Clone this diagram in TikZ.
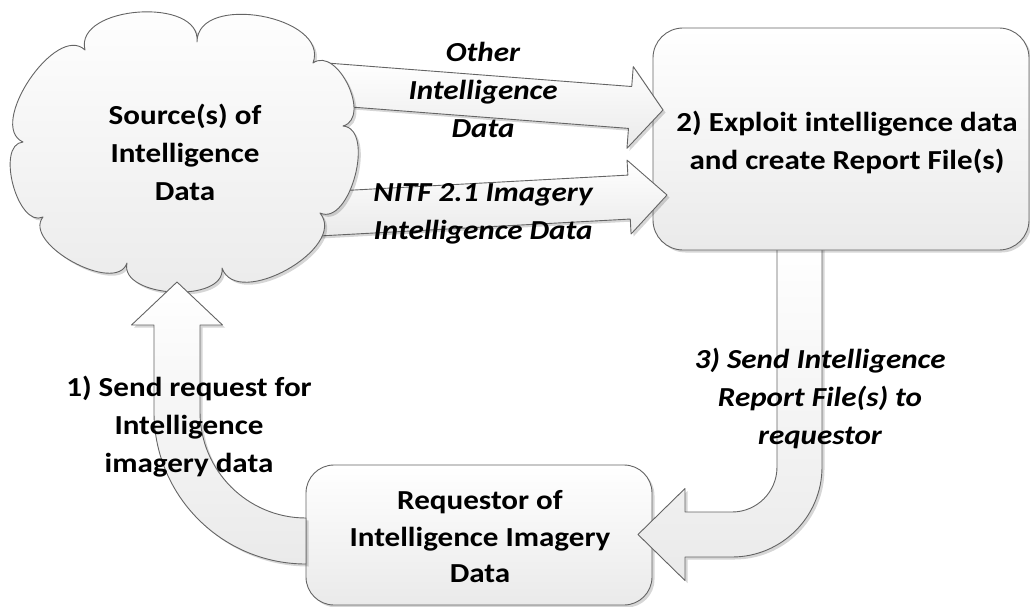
\documentclass[tikz,border=0pt]{standalone}
\usepackage{fontspec}
\setmainfont{Carlito}[FakeStretch=1.13]
\usetikzlibrary{calc,shadows}
\definecolor{linegray}{RGB}{100,100,100}
\definecolor{fillgray}{RGB}{234,234,234}
\tikzset{
  shapefill/.style={draw=linegray, line width=0.9pt, line join=round, top color=white, bottom color=fillgray},
  softshadow/.style={drop shadow={shadow xshift=2.5pt, shadow yshift=-2.5pt, opacity=0.16, fill=black}},
  boxst/.style={shapefill, softshadow, rounded corners=#1, inner sep=0pt},
  lbl/.style={font=\fontsize{27.5}{38}\selectfont\bfseries, align=center, text=black, inner sep=0pt},
  ilbl/.style={font=\fontsize{27.5}{38}\selectfont\bfseries\itshape, align=center, text=black, inner sep=0pt}
}
\newcommand\bump[3]{.. controls ($(#1)!#3!100:(#2)$) and ($(#2)!#3!-100:(#1)$) .. (#2)}
\newcommand\blockarrow[6]{% name, tail, tip, shaft half, head half, head length
  \coordinate (#1h) at ($(#3)!#6!(#2)$);
  \draw[shapefill, softshadow] ($(#2)!#4!90:(#3)$) -- ($(#1h)!#4!-90:(#2)$) -- ($(#1h)!#5!-90:(#2)$)
    -- (#3) -- ($(#1h)!#5!90:(#2)$) -- ($(#1h)!#4!90:(#2)$) -- ($(#2)!#4!-90:(#3)$) -- cycle;}
\begin{document}
\begin{tikzpicture}[x=1pt,y=-1pt]
\useasboundingbox (0,0) rectangle (1030,607);
% requestor box
\node[boxst=28pt, minimum width=346pt, minimum height=140pt] (req) at (479,535) {};
% arrow 3: from report box down to requestor
\draw[shapefill, softshadow] (777,240) -- (777,467)
   .. controls (777,491.9) and (756.9,512) .. (732,512)
   -- (685,512) -- (685,488.5) -- (638,534.5) -- (685,580.5) -- (685,557) -- (732,557)
   .. controls (781.7,557) and (822,516.7) .. (822,467) -- (822,240) -- cycle;
% report box
\node[boxst=30pt, minimum width=376pt, minimum height=222pt] (exploit) at (841,139) {};
% top arrows
\coordinate (a1tail) at (300,82);
\coordinate (a1tip) at (663,110);
\coordinate (a2tail) at (300,215);
\coordinate (a2tip) at (667,195);
\blockarrow{a1}{a1tail}{a1tip}{21pt}{41pt}{33pt}
\blockarrow{a2}{a2tail}{a2tip}{22pt}{37pt}{38pt}
% cloud
\coordinate (V1) at (85,50);
\coordinate (V2) at (197,42);
\coordinate (V3) at (313,63);
\coordinate (V4) at (343,126);
\coordinate (V6) at (320,213);
\coordinate (V7) at (222,268);
\coordinate (V8) at (127,263);
\coordinate (V9) at (43,217);
\coordinate (V10) at (23,142);
\draw[shapefill, softshadow] (V1) \bump{V1}{V2}{46pt} \bump{V2}{V3}{50pt} \bump{V3}{V4}{30pt}
   \bump{V4}{V6}{33pt} \bump{V6}{V7}{45pt} \bump{V7}{V8}{36pt} \bump{V8}{V9}{34pt}
   \bump{V9}{V10}{28pt} \bump{V10}{V1}{40pt} -- cycle;
% arrow 1: from requestor up to the cloud
\draw[shapefill, softshadow] (306,518) .. controls (247.5,518) and (200,470.5) .. (200,412)
   -- (200,325) -- (222.5,325) -- (177,282) -- (131.5,325) -- (154,325) -- (154,412)
   .. controls (154,496) and (222,564) .. (306,564) -- cycle;
% texts
\node[lbl] (srctext) at (185,152) {Source(s) of\\Intelligence\\Data};
\node[lbl] (exptext) at (847,142) {2) Exploit intelligence data\\and create Report File(s)};
\node[lbl, font=\fontsize{27.5}{36.5}\selectfont\bfseries] (reqtext) at (480,537) {Requestor of\\Intelligence Imagery\\Data};
\node[ilbl] (othertext) at (483,90) {Other\\Intelligence\\Data};
\node[ilbl] (nitftext) at (483,214) {NITF 2.1 Imagery\\Intelligence Data};
\node[ilbl] (sendtext) at (820,398) {3) Send Intelligence\\Report File(s) to\\requestor};
\node[lbl] (reqsend) at (189,427) {1) Send request for\\Intelligence\\imagery data};
\end{tikzpicture}
\end{document}
